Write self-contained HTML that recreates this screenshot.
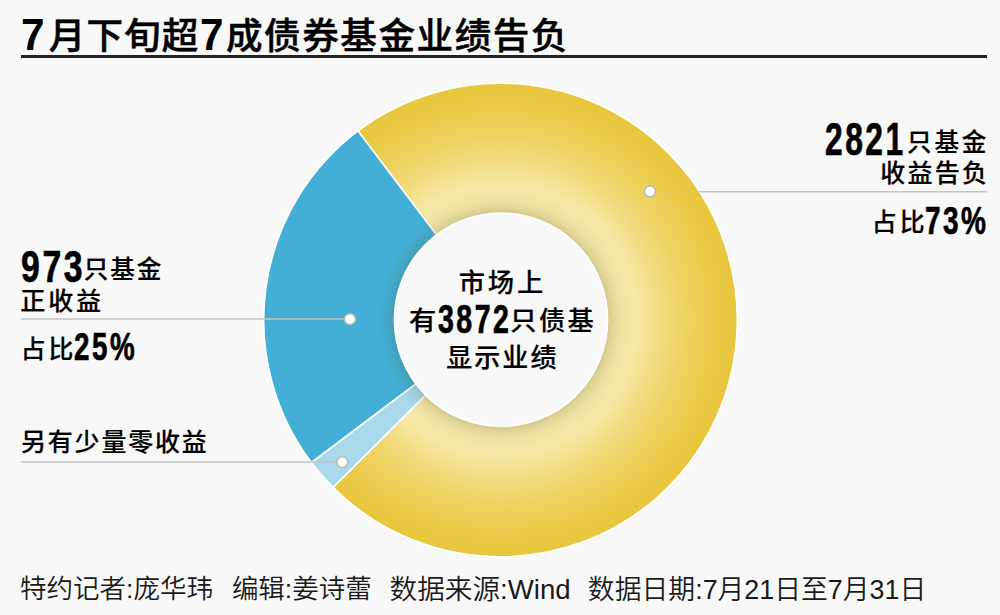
<!DOCTYPE html>
<html lang="zh-CN">
<head>
<meta charset="utf-8">
<title>7月下旬超7成债券基金业绩告负</title>
<style>
  html, body { margin: 0; padding: 0; }
  body {
    width: 1000px; height: 615px; overflow: hidden; position: relative;
    background: #f8f8f8; color: #000;
    font-family: "Liberation Sans", "Noto Sans CJK SC", sans-serif;
  }
  .p { position: absolute; white-space: nowrap; line-height: 1; transform-origin: 0 0; }
  .rule { position: absolute; left: 21px; top: 55.4px; width: 966px; height: 2.2px; background: #222; }
  svg { position: absolute; left: 0; top: 0; }
</style>
</head>
<body>
<div class="rule"></div>

<svg width="1000" height="615" viewBox="0 0 1000 615">
  <defs>
    <radialGradient id="yg" gradientUnits="userSpaceOnUse" cx="500.5" cy="320" r="236">
      <stop offset="0.45" stop-color="#efe3a6"/>
      <stop offset="0.5" stop-color="#f2e6a6"/>
      <stop offset="0.58" stop-color="#f5e8a4"/>
      <stop offset="0.69" stop-color="#f0da7c"/>
      <stop offset="0.82" stop-color="#ecd05a"/>
      <stop offset="0.92" stop-color="#e9c946"/>
      <stop offset="1" stop-color="#e8c63c"/>
    </radialGradient>
    <radialGradient id="sh" gradientUnits="userSpaceOnUse" cx="501" cy="319.7" r="128">
      <stop offset="0.83" stop-color="#484000" stop-opacity="0.18"/>
      <stop offset="0.87" stop-color="#484000" stop-opacity="0.10"/>
      <stop offset="0.93" stop-color="#484000" stop-opacity="0.035"/>
      <stop offset="1" stop-color="#484000" stop-opacity="0"/>
    </radialGradient>
  </defs>
  <g stroke="#fff" stroke-width="1.6" stroke-linejoin="round">
    <path d="M357.99,130.88 A236.8,236.8 0 1 1 333.06,487.44 L429.79,390.71 A100,100 0 1 0 440.32,240.14 Z" fill="url(#yg)"/>
    <path d="M333.06,487.44 A236.8,236.8 0 0 1 311.38,462.51 L420.64,380.18 A100,100 0 0 0 429.79,390.71 Z" fill="#a9d8eb"/>
    <path d="M311.38,462.51 A236.8,236.8 0 0 1 357.99,130.88 L440.32,240.14 A100,100 0 0 0 420.64,380.18 Z" fill="#43afd6"/>
  </g>
  <circle cx="501" cy="319.7" r="128" fill="url(#sh)"/>
  <circle cx="501" cy="319.7" r="106.6" fill="#f8f8f8" stroke="#fff" stroke-width="1.6"/>
  <g stroke="#c4c4c4" stroke-width="1.4" fill="none">
    <line x1="699" y1="191.8" x2="987" y2="191.8"/>
    <line x1="650" y1="191.8" x2="699" y2="191.8" stroke-opacity="0.3"/>
    <line x1="21" y1="319" x2="350" y2="319"/>
    <line x1="21" y1="462" x2="342.5" y2="462"/>
  </g>
  <g fill="#fff" stroke="#b8b8b8" stroke-width="1.5">
    <circle cx="650" cy="191.4" r="5.5"/>
    <circle cx="350" cy="319.2" r="5.5"/>
    <circle cx="342.4" cy="462.2" r="5.5"/>
  </g>
</svg>

<div class="p" style="left:21.30px;top:13.00px;font-size:44.50px;font-family:'Liberation Sans',sans-serif;font-weight:700;transform:scaleX(0.9500);">7</div>
<div class="p" style="left:48.70px;top:18.94px;font-size:36.60px;font-family:'Liberation Sans','Noto Sans CJK SC',sans-serif;font-weight:500;-webkit-text-stroke:0.5px #000;letter-spacing:1.13px;">月下旬超</div>
<div class="p" style="left:199.80px;top:13.35px;font-size:44.50px;font-family:'Liberation Sans',sans-serif;font-weight:700;transform:scaleX(0.9500);">7</div>
<div class="p" style="left:225.90px;top:18.54px;font-size:36.60px;font-family:'Liberation Sans','Noto Sans CJK SC',sans-serif;font-weight:500;-webkit-text-stroke:0.5px #000;letter-spacing:1.55px;">成债券基金业绩告负</div>
<div class="p" style="left:825.05px;top:116.51px;font-size:45.54px;font-family:'Liberation Sans',sans-serif;font-weight:700;-webkit-text-stroke:0.7px #000;letter-spacing:3.5px;transform:scaleX(0.6983);">2821</div>
<div class="p" style="left:907.00px;top:131.04px;font-size:24.63px;font-family:'Liberation Sans','Noto Sans CJK SC',sans-serif;font-weight:500;-webkit-text-stroke:0.2px #000;letter-spacing:2.80px;">只基金</div>
<div class="p" style="left:880.30px;top:160.89px;font-size:25.06px;font-family:'Liberation Sans','Noto Sans CJK SC',sans-serif;font-weight:500;-webkit-text-stroke:0.2px #000;letter-spacing:2.20px;">收益告负</div>
<div class="p" style="left:871.80px;top:209.51px;font-size:24.91px;font-family:'Liberation Sans','Noto Sans CJK SC',sans-serif;font-weight:500;-webkit-text-stroke:0.2px #000;letter-spacing:3.00px;">占比</div>
<div class="p" style="left:925.30px;top:200.59px;font-size:39.55px;font-family:'Liberation Sans',sans-serif;font-weight:700;-webkit-text-stroke:0.7px #000;letter-spacing:3.5px;transform:scaleX(0.7077);">73%</div>
<div class="p" style="left:21.34px;top:243.53px;font-size:44.98px;font-family:'Liberation Sans',sans-serif;font-weight:700;-webkit-text-stroke:0.7px #000;letter-spacing:3.5px;transform:scaleX(0.7504);">973</div>
<div class="p" style="left:83.80px;top:258.24px;font-size:24.63px;font-family:'Liberation Sans','Noto Sans CJK SC',sans-serif;font-weight:500;-webkit-text-stroke:0.2px #000;letter-spacing:1.80px;">只基金</div>
<div class="p" style="left:20.30px;top:288.74px;font-size:25.11px;font-family:'Liberation Sans','Noto Sans CJK SC',sans-serif;font-weight:500;-webkit-text-stroke:0.2px #000;letter-spacing:2.80px;">正收益</div>
<div class="p" style="left:20.80px;top:337.31px;font-size:24.91px;font-family:'Liberation Sans','Noto Sans CJK SC',sans-serif;font-weight:500;-webkit-text-stroke:0.2px #000;letter-spacing:2.80px;">占比</div>
<div class="p" style="left:73.76px;top:329.28px;font-size:37.89px;font-family:'Liberation Sans',sans-serif;font-weight:700;-webkit-text-stroke:0.7px #000;letter-spacing:3.5px;transform:scaleX(0.7327);">25%</div>
<div class="p" style="left:21.00px;top:429.71px;font-size:24.94px;font-family:'Liberation Sans','Noto Sans CJK SC',sans-serif;font-weight:500;-webkit-text-stroke:0.2px #000;letter-spacing:1.87px;">另有少量零收益</div>
<div class="p" style="left:458.80px;top:269.57px;font-size:26.25px;font-family:'Liberation Sans','Noto Sans CJK SC',sans-serif;font-weight:500;-webkit-text-stroke:0.2px #000;letter-spacing:2.80px;">市场上</div>
<div class="p" style="left:409.30px;top:308.06px;font-size:26.40px;font-family:'Liberation Sans','Noto Sans CJK SC',sans-serif;font-weight:500;-webkit-text-stroke:0.2px #000;transform:scaleX(1.0345);">有</div>
<div class="p" style="left:437.50px;top:300.05px;font-size:39.97px;font-family:'Liberation Sans',sans-serif;font-weight:700;-webkit-text-stroke:0.7px #000;letter-spacing:3.5px;transform:scaleX(0.7129);">3872</div>
<div class="p" style="left:510.30px;top:307.88px;font-size:26.25px;font-family:'Liberation Sans','Noto Sans CJK SC',sans-serif;font-weight:500;-webkit-text-stroke:0.2px #000;letter-spacing:2.40px;">只债基</div>
<div class="p" style="left:446.20px;top:345.00px;font-size:26.03px;font-family:'Liberation Sans','Noto Sans CJK SC',sans-serif;font-weight:500;-webkit-text-stroke:0.2px #000;letter-spacing:2.07px;">显示业绩</div>
<div class="p" style="left:20.04px;top:576.36px;font-size:26.50px;font-family:'Liberation Sans','Noto Sans CJK SC',sans-serif;font-weight:350;color:#1a1a1a;">特约记者:庞华玮</div>
<div class="p" style="left:231.89px;top:576.30px;font-size:26.51px;font-family:'Liberation Sans','Noto Sans CJK SC',sans-serif;font-weight:350;color:#1a1a1a;">编辑:姜诗蕾</div>
<div class="p" style="left:389.54px;top:575.84px;font-size:27.63px;font-family:'Liberation Sans','Noto Sans CJK SC',sans-serif;font-weight:350;color:#1a1a1a;">数据来源:Wind</div>
<div class="p" style="left:587.87px;top:577.21px;font-size:26.83px;font-family:'Liberation Sans','Noto Sans CJK SC',sans-serif;font-weight:350;color:#1a1a1a;">数据日期:7月21日至7月31日</div>
</body>
</html>
